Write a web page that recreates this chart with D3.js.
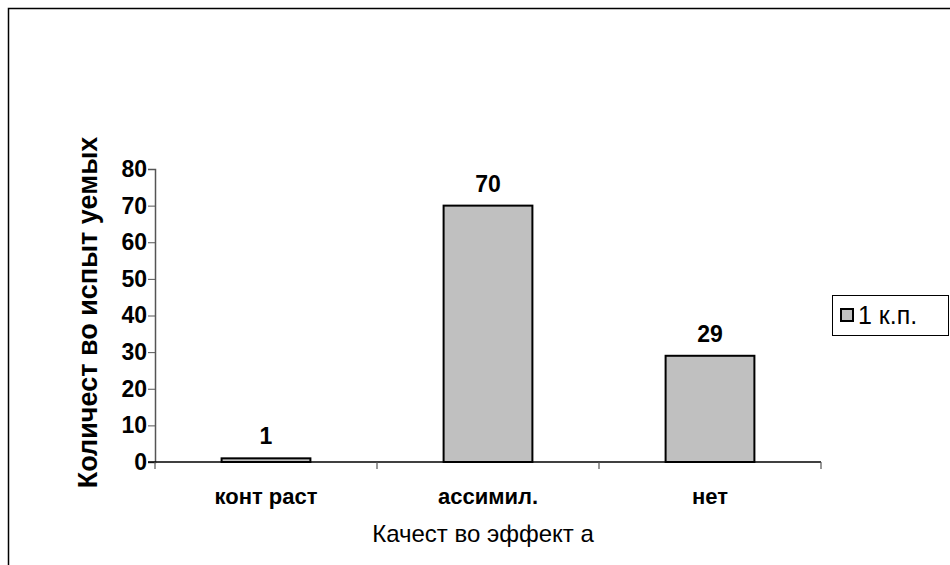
<!DOCTYPE html>
<html>
<head>
<meta charset="utf-8">
<script src="https://cdn.jsdelivr.net/npm/d3@7"></script>
<style>
  html, body { margin: 0; padding: 0; background: #fff; }
  svg { display: block; font-family: "Liberation Sans", Arial, sans-serif; }
</style>
</head>
<body>
<div id="chart"></div>
<script>
// values
var categories = ["конт раст", "ассимил.", "нет"];
var counts = [1, 70, 29];
var yTicks = [0, 10, 20, 30, 40, 50, 60, 70, 80];
var seriesName = "1 к.п.";
var yTitle = "Количест во испыт уемых";
var xTitle = "Качест во эффект а";

(function () {
  var W = 950, H = 565, m = { t: 169, r: 129, b: 103, l: 155 };
  var iw = W - m.l - m.r, ih = H - m.t - m.b;
  var svg = d3.select("#chart").append("svg").attr("width", W).attr("height", H);

  // outer chart-area frame (runs off the right and bottom edges)
  svg.append("rect").attr("x", 8.5).attr("y", 8.5).attr("width", W + 20).attr("height", H + 20)
    .attr("fill", "none").attr("stroke", "#000").attr("stroke-width", 1.5);

  var g = svg.append("g").attr("transform", "translate(" + m.l + "," + m.t + ")");
  var x = d3.scaleBand().domain(categories).range([0, iw]).paddingInner(0.6).paddingOuter(0.3);
  var xb = d3.scaleBand().domain(categories).range([0, iw]);
  var y = d3.scaleLinear().domain([0, 80]).range([ih, 0]);

  // y axis
  var ya = g.append("g").call(d3.axisLeft(y).tickValues(yTicks).tickSize(7).tickPadding(1));
  ya.select(".domain").attr("stroke", "#555").attr("stroke-width", 1.5);
  ya.selectAll(".tick line").attr("stroke", "#555");
  ya.selectAll("text").attr("font-size", 23).attr("font-weight", "bold").attr("fill", "#000")
    .attr("font-family", "Liberation Sans, Arial, sans-serif");

  // bars
  g.selectAll("rect.bar").data(counts).enter().append("rect").attr("class", "bar")
    .attr("x", function (d, i) { return x(categories[i]); })
    .attr("width", x.bandwidth())
    .attr("y", function (d) { return y(d); })
    .attr("height", function (d) { return ih - y(d); })
    .attr("fill", "#c0c0c0").attr("stroke", "#000").attr("stroke-width", 2);

  // x axis (drawn over the bar bottoms)
  var xa = g.append("g").attr("transform", "translate(0," + ih + ")")
    .call(d3.axisBottom(xb).tickSize(0).tickSizeOuter(0).tickPadding(26));
  xa.select(".domain").attr("stroke", "#000").attr("stroke-width", 1.5)
    .attr("d", "M-7,0H" + iw);
  xa.selectAll("text").attr("font-size", 22).attr("font-weight", "bold").attr("fill", "#000")
    .attr("font-family", "Liberation Sans, Arial, sans-serif");
  var bounds = [0].concat(categories.map(function (c) { return xb(c) + xb.bandwidth(); }));
  xa.selectAll("line.sep").data(bounds).enter().append("line").attr("class", "sep")
    .attr("x1", function (d) { return d; }).attr("x2", function (d) { return d; })
    .attr("y1", 0).attr("y2", 7).attr("stroke", "#555").attr("stroke-width", 1.2);

  // value labels
  g.selectAll("text.val").data(counts).enter().append("text").attr("class", "val")
    .attr("x", function (d, i) { return x(categories[i]) + x.bandwidth() / 2; })
    .attr("y", function (d) { return y(d) - 14; })
    .attr("text-anchor", "middle").attr("font-size", 23).attr("font-weight", "bold").text(function (d) { return d; });

  // axis titles
  g.append("text").attr("transform", "translate(-58," + (ih / 2 - 3) + ") rotate(-90)")
    .attr("text-anchor", "middle").attr("font-size", 27).attr("font-weight", "bold").text(yTitle);
  g.append("text").attr("x", iw / 2 - 5).attr("y", ih + 80)
    .attr("text-anchor", "middle").attr("font-size", 24).text(xTitle);

  // legend
  var lg = svg.append("g").attr("transform", "translate(832,295)");
  lg.append("rect").attr("x", 0.5).attr("y", 0.5).attr("width", 116).attr("height", 40)
    .attr("fill", "#fff").attr("stroke", "#000").attr("stroke-width", 1);
  lg.append("rect").attr("x", 9).attr("y", 14).attr("width", 12).attr("height", 12)
    .attr("fill", "#c0c0c0").attr("stroke", "#000").attr("stroke-width", 2);
  lg.append("text").attr("x", 26).attr("y", 29).attr("font-size", 25).text(seriesName);
})();
</script>
</body>
</html>
